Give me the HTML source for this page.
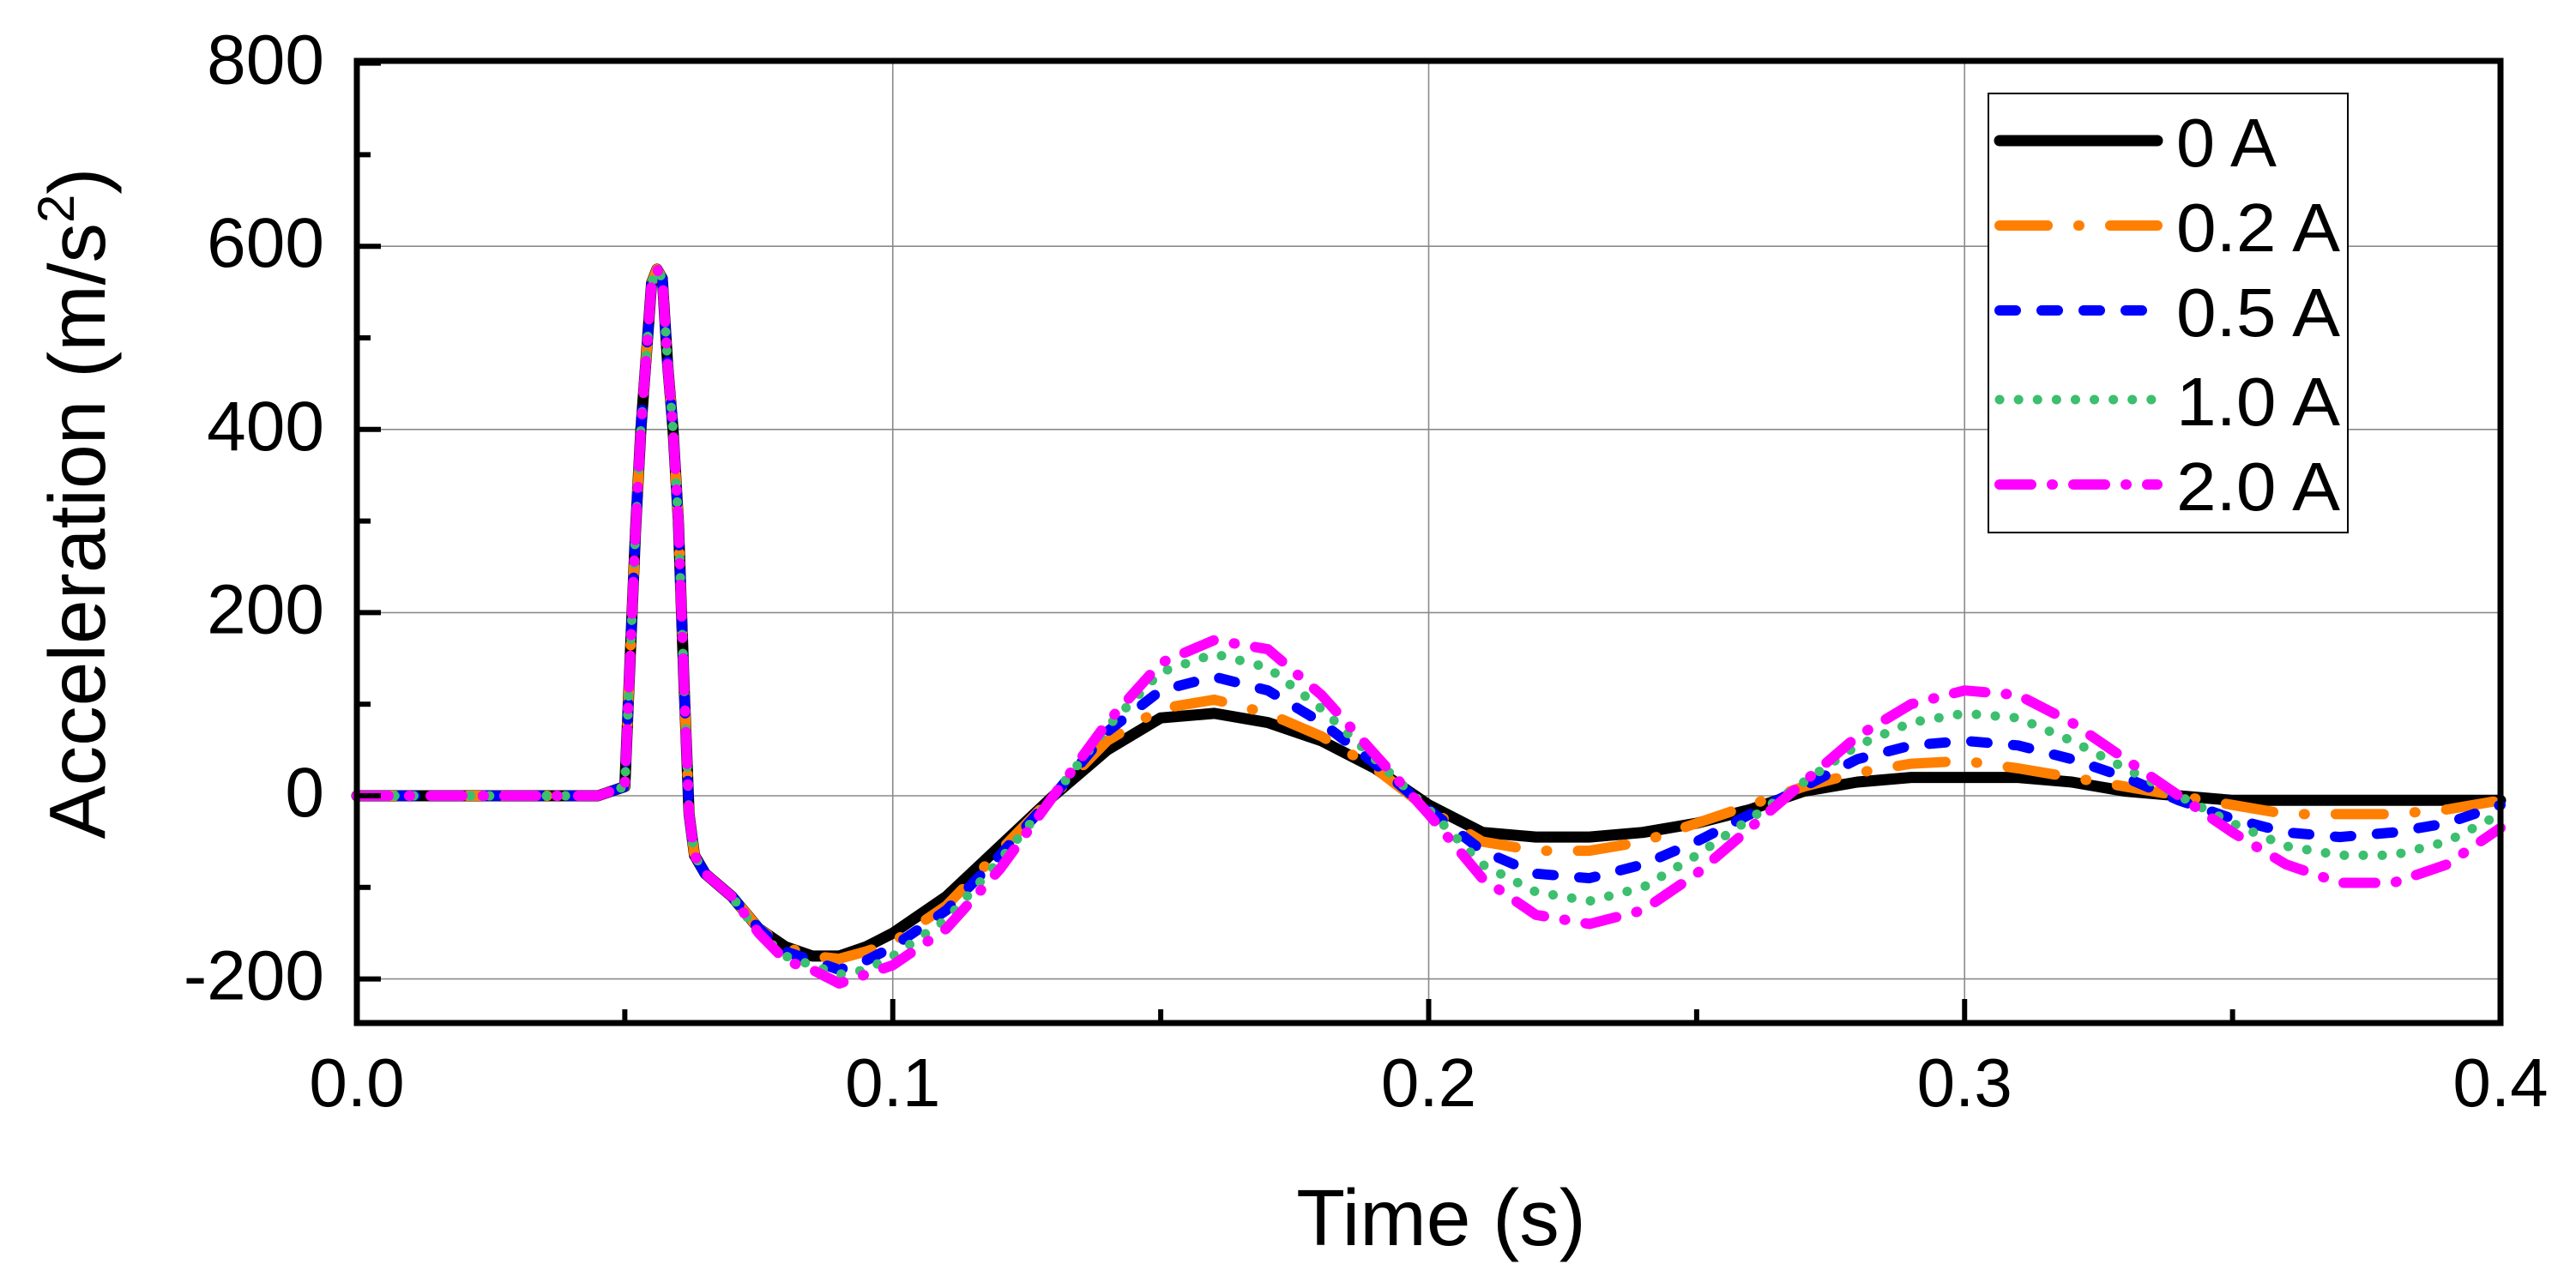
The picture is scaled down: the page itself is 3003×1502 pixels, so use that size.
<!DOCTYPE html>
<html><head><meta charset="utf-8"><style>
html,body{margin:0;padding:0;background:#fff;}
svg{display:block;font-family:"Liberation Sans",Arial,sans-serif;}
</style></head><body>
<svg id="chart" width="3003" height="1502" viewBox="0 0 3003 1502" xmlns="http://www.w3.org/2000/svg">
<g id="grid"></g>
<g id="series"></g>
<g id="axes"></g>
<text x="1680" y="1452" font-size="93" text-anchor="middle">Time (s)</text>
<text transform="translate(122,587) rotate(-90)" font-size="93" text-anchor="middle">Acceleration (m/s<tspan font-size="60" dy="-36">2</tspan><tspan dy="36">)</tspan></text>
<g id="legend"></g>
</svg>
<script>
const times=[0,0.045,0.05,0.051,0.052,0.053,0.054,0.055,0.056,0.057,0.058,0.059,0.06,0.061,0.062,0.063,0.065,0.07,0.075,0.08,0.085,0.09,0.095,0.1,0.11,0.12,0.13,0.14,0.15,0.16,0.17,0.18,0.19,0.2,0.21,0.22,0.23,0.24,0.25,0.26,0.27,0.28,0.29,0.3,0.31,0.32,0.33,0.34,0.35,0.36,0.37,0.38,0.39,0.4];
const s0A=[0,0,10,150,290,400,480,560,575,565,470,400,300,130,-20,-65,-85,-110,-145,-165,-175,-175,-165,-150,-110,-55,0,50,85,90,80,60,30,-10,-40,-45,-45,-40,-30,-15,5,15,20,20,20,15,5,0,-5,-5,-5,-5,-5,-5];
const s02A=[0,0,10,150,290,400,480,560,575,565,470,400,300,130,-20,-65,-85,-110,-145,-165,-175,-178,-170,-160,-120,-60,0,60,95,105,90,65,30,-15,-50,-60,-60,-50,-30,-10,10,25,35,38,30,20,10,0,-10,-20,-20,-20,-15,-5];
const s05A=[0,0,10,150,290,400,480,560,575,565,470,400,300,130,-20,-65,-85,-110,-145,-170,-180,-190,-180,-165,-125,-65,0,70,115,130,115,80,35,-15,-60,-85,-90,-75,-50,-20,10,40,55,60,55,40,20,-5,-25,-40,-45,-40,-30,-10];
const s10A=[0,0,10,150,290,400,480,560,575,565,470,400,300,130,-20,-65,-85,-110,-150,-175,-185,-195,-190,-175,-135,-70,0,75,135,155,140,95,40,-15,-75,-105,-115,-100,-65,-25,15,55,80,90,85,60,30,0,-30,-55,-65,-65,-50,-20];
const s20A=[0,0,10,150,290,400,480,560,575,565,470,400,300,130,-20,-65,-85,-110,-150,-180,-190,-205,-195,-185,-145,-80,0,80,145,170,160,110,45,-20,-90,-130,-140,-125,-85,-35,15,65,100,115,110,80,40,0,-40,-75,-95,-95,-75,-35];
const seriesNames=["0 A","0.2 A","0.5 A","1.0 A","2.0 A"];
const xTicks=[0,0.1,0.2,0.3,0.4];
const xTickLabels=["0.0","0.1","0.2","0.3","0.4"];
const yTicks=[-200,0,200,400,600,800];
const yTickLabels=["-200","0","200","400","600","800"];

const NS="http://www.w3.org/2000/svg";
const L=416,R=2915,T=71,B=1193;
function xs(t){return L+(t-0)/(0.4-0)*(R-L);}
function ys(v){return 928-v*1.068;}
function mk(tag,attrs,parent){const e=document.createElementNS(NS,tag);for(const k in attrs)e.setAttribute(k,attrs[k]);parent.appendChild(e);return e;}
const grid=document.getElementById('grid'),axes=document.getElementById('axes'),ser=document.getElementById('series'),leg=document.getElementById('legend');
xTicks.forEach((t,i)=>{
  if(i>0&&i<xTicks.length-1){const g=mk('line',{x1:xs(t),x2:xs(t),y1:T,y2:B,stroke:'#8a8a8a','stroke-width':1.6},grid);
  
  }
  const tk=mk('line',{x1:xs(t),x2:xs(t),y1:B,y2:B-28,stroke:'#000','stroke-width':6},axes);
  
  
  if(i<xTicks.length-1){const m=mk('line',{x1:xs(t+0.05),x2:xs(t+0.05),y1:B,y2:B-16,stroke:'#000','stroke-width':6},axes);
  
  }
  const lb=mk('text',{x:xs(t),y:1290,'font-size':80,'text-anchor':'middle'},axes);lb.textContent=xTickLabels[i];
  
  
});
yTicks.forEach((v,i)=>{
  const g=mk('line',{x1:L,x2:R,y1:ys(v),y2:ys(v),stroke:'#8a8a8a','stroke-width':1.6},grid);
  
  
  const tk=mk('line',{x1:L,x2:L+28,y1:ys(v),y2:ys(v),stroke:'#000','stroke-width':6},axes);
  
  
  const m=mk('line',{x1:L,x2:L+16,y1:ys(v+100),y2:ys(v+100),stroke:'#000','stroke-width':6},axes);
  
  
  const lb=mk('text',{x:378,y:ys(v)+24,'font-size':82,'text-anchor':'end'},axes);lb.textContent=yTickLabels[i];
  
  
});
const frame=mk('rect',{x:L,y:T,width:R-L,height:B-T,fill:'none',stroke:'#000','stroke-width':7},axes);



const styles=[
 {c:'#000000',w:13,d:''},
 {c:'#ff7f00',w:12,d:'56 36 1 36'},
 {c:'#0000ff',w:12,d:'19 30'},
 {c:'#3cbf6e',w:11,d:'0.1 22'},
 {c:'#ff00ff',w:12,d:'37 24 1 24'}];
const data=[s0A,s02A,s05A,s10A,s20A];
[0,1,2,3,4].forEach(k=>{
  const vals=data[k];
  let d='';
  times.forEach((t,i)=>{d+=(i?'L':'M')+xs(t).toFixed(1)+','+ys(vals[i]).toFixed(1);});
  const p=mk('path',{d:d,fill:'none',stroke:styles[k].c,'stroke-width':styles[k].w,'stroke-linecap':'round','stroke-linejoin':'round'},ser);
  if(styles[k].d)p.setAttribute('stroke-dasharray',styles[k].d);
  
  
});

const box=mk('rect',{x:2318,y:109,width:419,height:512,fill:'#fff',stroke:'#000','stroke-width':2},leg);


const ly=[164,263,362,466,565];
seriesNames.forEach((n,k)=>{
  const ln=mk('line',{x1:2331,x2:2515,y1:ly[k],y2:ly[k],stroke:styles[k].c,'stroke-width':styles[k].w,'stroke-linecap':'round'},leg);
  if(styles[k].d)ln.setAttribute('stroke-dasharray',styles[k].d);
  
  
  const tx=mk('text',{x:2537,y:ly[k]+30,'font-size':80,textLength:(n.length>3?191:117),lengthAdjust:'spacingAndGlyphs'},leg);
  tx.textContent=n;
  
  
});
</script>
</body></html>
